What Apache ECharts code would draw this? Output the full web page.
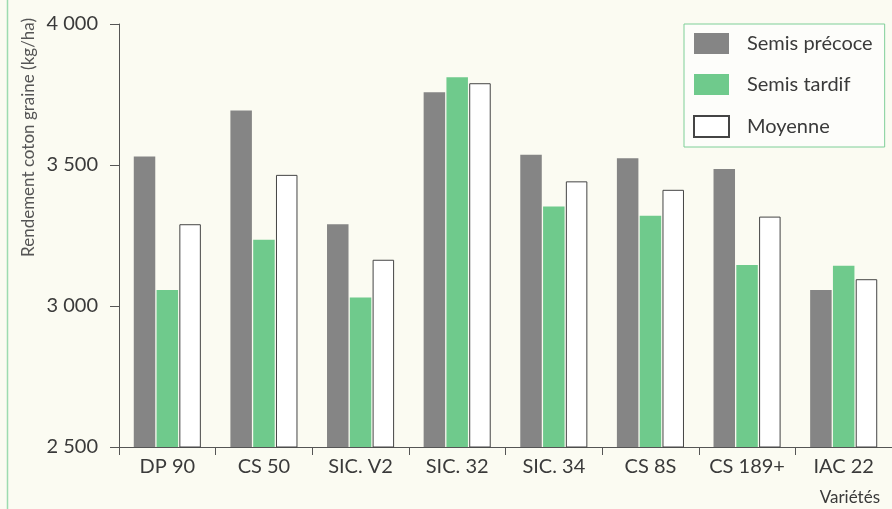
<!DOCTYPE html>
<html>
<head>
<meta charset="utf-8">
<title>Rendement coton graine par variété</title>
<script src="https://cdn.jsdelivr.net/npm/echarts@6/dist/echarts.min.js"></script>
<style>
  html, body { margin: 0; padding: 0; background: #fbfbf2; }
  #chart { width: 892px; height: 509px; }
</style>
</head>
<body>
<div id="chart"></div>
<script>
// Varieties on the x axis
const varietes = ['DP 90', 'CS 50', 'SIC. V2', 'SIC. 32', 'SIC. 34', 'CS 8S', 'CS 189+', 'IAC 22'];

// Seed cotton yield (kg/ha) per sowing date
const semisPrecoce = [3530, 3693, 3290, 3758, 3536, 3524, 3486, 3057];
const semisTardif  = [3057, 3235, 3030, 3811, 3353, 3320, 3145, 3143];
const moyenne      = [3290, 3465, 3164, 3790, 3442, 3412, 3317, 3095];

// Y axis range and tick step
const yMin = 2500;
const yMax = 4000;
const yStep = 500;

const FONT = 'Lato, "Open Sans", sans-serif';
const TEXT = '#3a3a3a';
const AXIS = '#555555';

const chart = echarts.init(document.getElementById('chart'), null, { renderer: 'canvas' });

function fmtThousands(v) {
  const s = String(v);
  return s.length > 3 ? s.slice(0, s.length - 3) + ' ' + s.slice(-3) : s;
}

chart.setOption({
  backgroundColor: '#fbfbf2',
  animation: false,
  grid: { left: 119, top: 24, width: 774, bottom: 62, containLabel: false },
  legend: {
    orient: 'vertical',
    left: 684,
    top: 24,
    padding: [9, 12, 9, 9],
    itemWidth: 35,
    itemHeight: 21,
    itemGap: 20,
    icon: 'rect',
    backgroundColor: '#fdfdfa',
    borderColor: '#7fcf98',
    borderWidth: 1,
    textStyle: { fontFamily: FONT, fontSize: 20, color: TEXT, padding: [0, 0, 0, 13] },
    data: ['Semis précoce', 'Semis tardif', 'Moyenne']
  },
  xAxis: {
    type: 'category',
    data: varietes,
    axisLine: { lineStyle: { color: AXIS, width: 1 } },
    axisTick: { show: true, interval: 0, length: 8, lineStyle: { color: AXIS } },
    axisLabel: { interval: 0, hideOverlap: false, fontFamily: FONT, fontSize: 20, color: TEXT, margin: 10 }
  },
  yAxis: {
    type: 'value',
    min: yMin,
    max: yMax,
    interval: yStep,
    splitLine: { show: false },
    axisLine: { show: true, lineStyle: { color: AXIS, width: 1 } },
    axisTick: { show: true, length: 9, lineStyle: { color: AXIS } },
    axisLabel: {
      fontFamily: FONT, fontSize: 20, color: TEXT, margin: 21,
      formatter: fmtThousands
    }
  },
  series: [
    {
      name: 'Semis précoce', type: 'bar', data: semisPrecoce,
      barWidth: 21.5, barGap: '6%',
      itemStyle: { color: '#858585' }
    },
    {
      name: 'Semis tardif', type: 'bar', data: semisTardif,
      barWidth: 21.5, barGap: '6%',
      itemStyle: { color: '#6fca8c' }
    },
    {
      name: 'Moyenne', type: 'bar', data: moyenne,
      barWidth: 21.5, barGap: '6%',
      itemStyle: { color: '#ffffff', borderColor: '#444444', borderWidth: 1 }
    }
  ],
  graphic: [
    {
      type: 'line',
      shape: { x1: 7.5, y1: 0, x2: 7.5, y2: 509 },
      style: { stroke: '#9ddbb0', lineWidth: 1.5 },
      silent: true
    },
    {
      type: 'text',
      x: 29, y: 18,
      rotation: Math.PI / 2,
      style: {
        text: 'Rendement coton graine (kg/ha)',
        fontFamily: FONT, fontSize: 17, fill: '#555555',
        align: 'right', verticalAlign: 'middle'
      }
    },
    {
      type: 'text',
      right: 12, top: 489,
      style: {
        text: 'Variétés',
        fontFamily: FONT, fontSize: 17, fill: TEXT
      }
    }
  ]
});
</script>
</body>
</html>
